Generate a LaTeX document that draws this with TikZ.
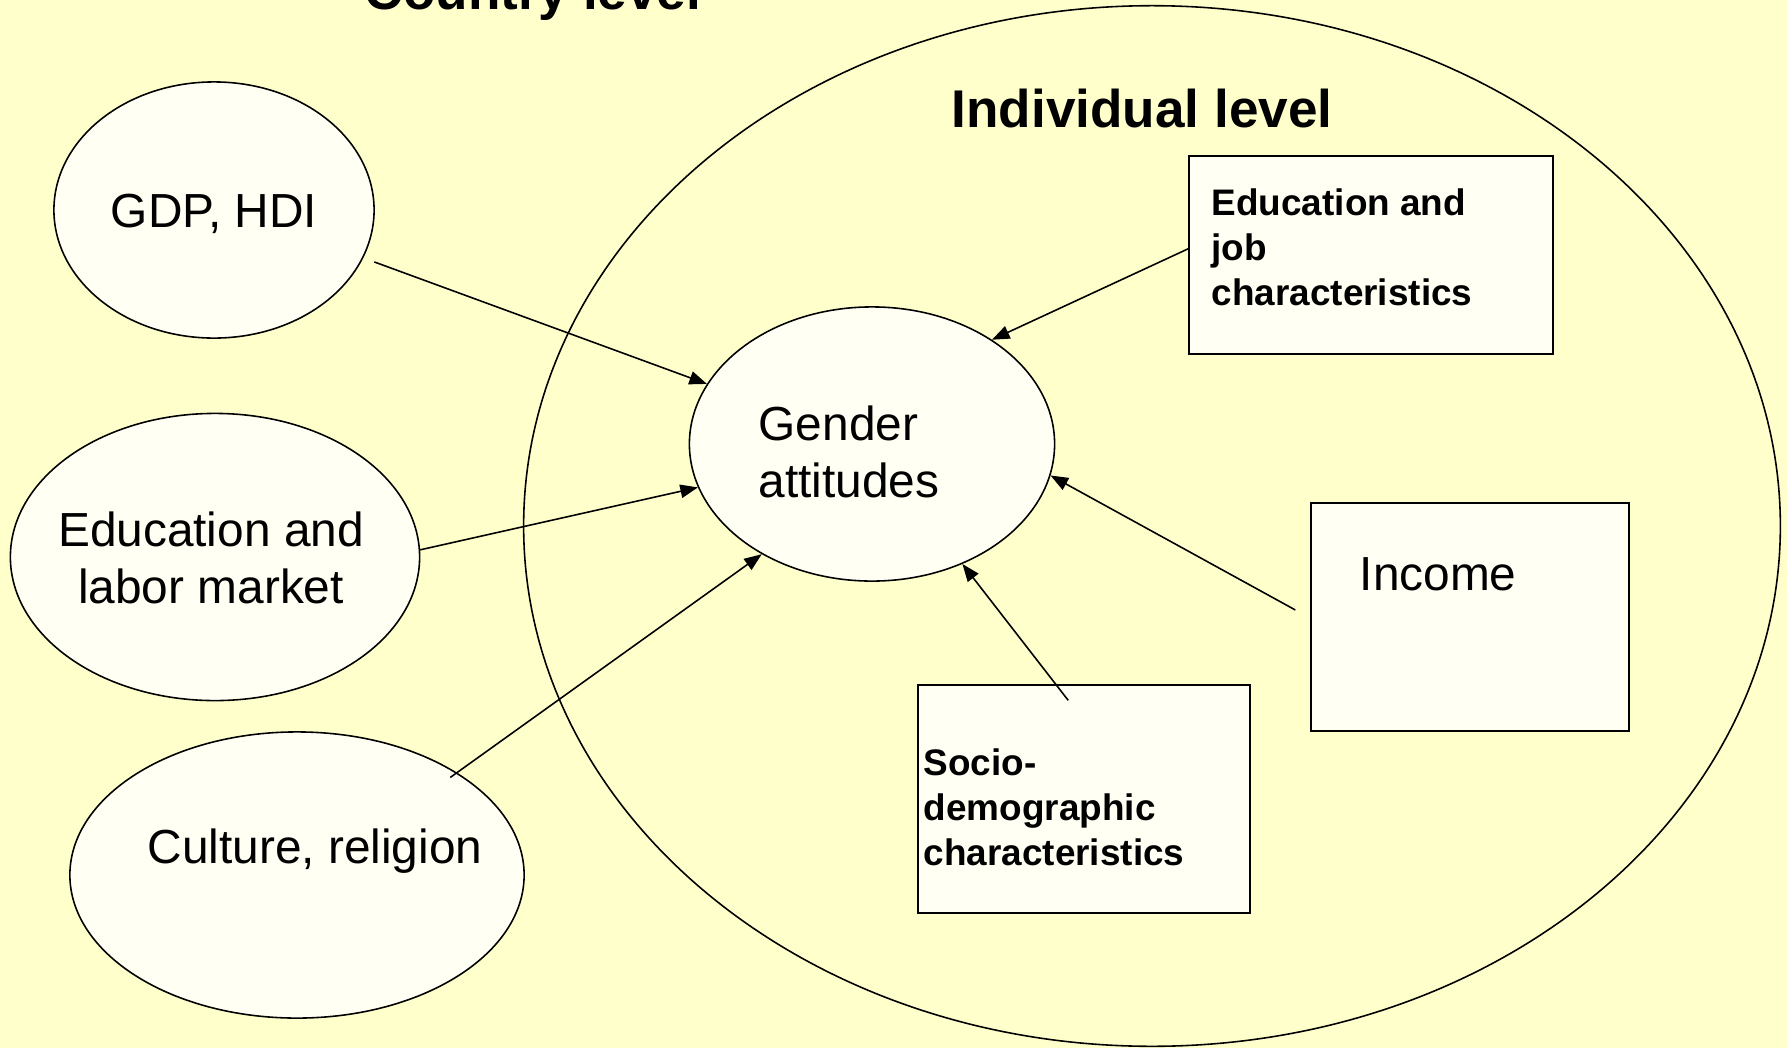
\documentclass[tikz,border=0pt]{standalone}
\usepackage{fontspec}
\setmainfont{Liberation Sans}
\usetikzlibrary{shapes.geometric,arrows.meta}

\definecolor{paper}{HTML}{FFFFCC}
\definecolor{shapefill}{HTML}{FFFFF4}

\tikzset{
  blob/.style={draw, ellipse, fill=shapefill, line width=0.45pt, inner sep=0pt},
  card/.style={draw, rectangle, fill=shapefill, line width=0.55pt, inner sep=0pt},
  plaintext/.style={font=\fontsize{13.6}{16.1}\selectfont, inner sep=0pt},
  smallbold/.style={font=\bfseries\fontsize{10.5}{12.7}\selectfont, inner sep=0pt, align=left},
  heading/.style={font=\bfseries\fontsize{15.1}{18}\selectfont, inner sep=0pt},
  link/.style={-{Triangle[length=5pt,width=3.8pt]}, line width=0.45pt},
}

\begin{document}
\begin{tikzpicture}[x=0.01cm, y=-0.01cm]

  % --- Page and background ---
  \useasboundingbox (0,0) rectangle (1787,1048);
  \fill[paper] (0,0) rectangle (1787,1048);

  % --- Individual level frame ---
  \node[draw, ellipse, line width=0.45pt, inner sep=0pt,
        minimum width=12.56cm, minimum height=10.4cm] (indiv) at (1152,526) {};

  % --- Country level ellipses ---
  \node[blob, minimum width=3.2cm,  minimum height=2.56cm] (gdp)     at (214,210) {};
  \node[blob, minimum width=4.09cm, minimum height=2.87cm] (edulab)  at (215,557) {};
  \node[blob, minimum width=4.54cm, minimum height=2.86cm] (culture) at (297,875) {};

  % --- Centre ellipse and individual boxes ---
  \node[blob, minimum width=3.65cm, minimum height=2.74cm] (gender) at (872,444) {};
  \node[card, minimum width=3.63cm, minimum height=1.97cm] (edujob) at (1371,255) {};
  \node[card, minimum width=3.17cm, minimum height=2.27cm] (income) at (1470,617) {};
  \node[card, minimum width=3.32cm, minimum height=2.27cm] (socio)  at (1084,799) {};

  % --- Texts (multi-line ones sit on their last baseline) ---
  \node[heading, anchor=base] (countrytitle) at (533,9)   {Country level};
  \node[heading, anchor=base] (indivtitle)   at (1142,127) {Individual level};
  \node[plaintext, anchor=base] (gdptext)    at (214,227) {GDP, HDI};
  \node[plaintext, anchor=base, align=center] (edulabtext) at (211,603) {Education and\\labor market};
  \node[plaintext, anchor=base] (culturetext) at (315,863) {Culture, religion};
  \node[plaintext, anchor=base west, align=left] (gendertext) at (758,497) {Gender\\attitudes};
  \node[plaintext, anchor=base west] (incometext) at (1359,590) {Income};
  \node[smallbold, anchor=base west] (edujobtext) at (1211,305) {Education and\\job\\characteristics};
  \node[smallbold, anchor=base west] (sociotext)  at (923,865) {Socio-\\demographic\\characteristics};

  % --- Influences on gender attitudes ---
  \draw[link] ([shift={(3.2pt,-1pt)}]gdp.-18) -- (gender.160);
  \draw[link] (edulab.2) -- (gender.194);
  \draw[link] ([shift={(-1.6pt,-1.6pt)}]culture.33) -- (gender.225);
  \draw[link] ([yshift=1.8pt]edujob.west) -- (gender.41);
  \draw[link] ([shift={(-4.3pt,2pt)}]income.west) -- (gender.-10);
  \draw[link] ([shift={(-4.5pt,-4.5pt)}]socio.north) -- (gender.-53);

\end{tikzpicture}
\end{document}
